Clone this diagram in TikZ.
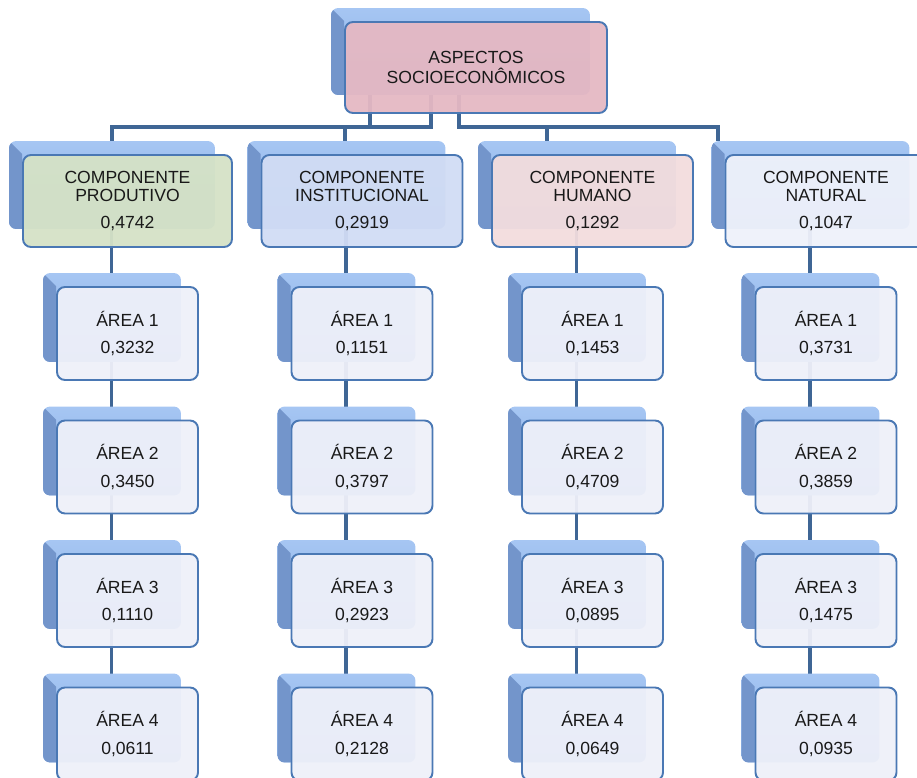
\documentclass[tikz,border=0pt]{standalone}
\usepackage{fontspec}
\setmainfont{Liberation Sans}
\usetikzlibrary{calc}

\pgfdeclarelayer{lines}
\pgfdeclarelayer{shade}
\pgfsetlayers{lines,shade,main}

\definecolor{linkblue}{HTML}{3F6695}
\definecolor{boxedge}{HTML}{4A78B4}
\definecolor{shadetop}{HTML}{A6C6F3}
\definecolor{shadebot}{HTML}{88AEE4}
\definecolor{shadeside}{HTML}{7395CB}
\definecolor{fillroot}{HTML}{E5B8C3}
\definecolor{fillprod}{HTML}{D5E2C6}
\definecolor{fillinst}{HTML}{D1DCF4}
\definecolor{fillhum}{HTML}{F2DCDD}
\definecolor{fillnat}{HTML}{EEF1FA}
\definecolor{fillarea}{HTML}{EEF0F9}

\begin{document}
\begin{tikzpicture}[
        x=0.02cm, y=-0.02cm,
        font=\fontsize{10}{10.2}\selectfont,
        card/.style={draw=boxedge, line width=1.1pt, rounded corners=4.5pt, fill opacity=0.95, text opacity=1, text=black!90, align=center, inner sep=0pt},
        root/.style={card, fill=fillroot, minimum width=5.24cm, minimum height=1.82cm},
        comp/.style={card, minimum width=4.02cm, minimum height=1.84cm},
        area/.style={card, fill=fillarea, minimum width=2.82cm, minimum height=1.86cm},
        link/.style={draw=linkblue, line width=2.2pt},
    ]
    \useasboundingbox (0,0) rectangle (917,778);

    %====================== TOPO ======================
    \node[root] (aspectos) at (476,67.5) {ASPECTOS\\[1.2pt]SOCIOECONÔMICOS};

    %====================== COMPONENTES ======================
    \node[comp, fill=fillprod, minimum width=4.18cm] (prod) at (127.5,201) {COMPONENTE\\PRODUTIVO\\[5.7pt]0,4742};
    \node[comp, fill=fillinst] (inst) at (362,201)   {COMPONENTE\\INSTITUCIONAL\\[5.7pt]0,2919};
    \node[comp, fill=fillhum]  (hum)  at (592.5,201) {COMPONENTE\\HUMANO\\[5.7pt]0,1292};
    \node[comp, fill=fillnat]  (nat)  at (826,201)   {COMPONENTE\\NATURAL\\[5.7pt]0,1047};

    %====================== ÁREAS ======================
    \node[area] (prod-a1) at (127.5,333.5) {ÁREA 1\\[5.7pt]0,3232};
    \node[area] (prod-a2) at (127.5,467)   {ÁREA 2\\[5.7pt]0,3450};
    \node[area] (prod-a3) at (127.5,600.5) {ÁREA 3\\[5.7pt]0,1110};
    \node[area] (prod-a4) at (127.5,734)   {ÁREA 4\\[5.7pt]0,0611};

    \node[area] (inst-a1) at (362,333.5) {ÁREA 1\\[5.7pt]0,1151};
    \node[area] (inst-a2) at (362,467)   {ÁREA 2\\[5.7pt]0,3797};
    \node[area] (inst-a3) at (362,600.5) {ÁREA 3\\[5.7pt]0,2923};
    \node[area] (inst-a4) at (362,734)   {ÁREA 4\\[5.7pt]0,2128};

    \node[area] (hum-a1) at (592.5,333.5) {ÁREA 1\\[5.7pt]0,1453};
    \node[area] (hum-a2) at (592.5,467)   {ÁREA 2\\[5.7pt]0,4709};
    \node[area] (hum-a3) at (592.5,600.5) {ÁREA 3\\[5.7pt]0,0895};
    \node[area] (hum-a4) at (592.5,734)   {ÁREA 4\\[5.7pt]0,0649};

    \node[area] (nat-a1) at (826,333.5) {ÁREA 1\\[5.7pt]0,3731};
    \node[area] (nat-a2) at (826,467)   {ÁREA 2\\[5.7pt]0,3859};
    \node[area] (nat-a3) at (826,600.5) {ÁREA 3\\[5.7pt]0,1475};
    \node[area] (nat-a4) at (826,734)   {ÁREA 4\\[5.7pt]0,0935};

    %====================== CAIXAS DE FUNDO (azul) ======================
    \begin{pgfonlayer}{shade}
    \foreach \n in {aspectos, prod, inst, hum, nat,
                    prod-a1, prod-a2, prod-a3, prod-a4, inst-a1, inst-a2, inst-a3, inst-a4,
                    hum-a1, hum-a2, hum-a3, hum-a4, nat-a1, nat-a2, nat-a3, nat-a4} {
        \coordinate (bk-nw) at ($(\n.north west)+(-13,-13)$);
        \coordinate (bk-se) at ($(\n.south east)+(-18,-19)$);
        \shade[top color=shadetop, bottom color=shadebot, rounded corners=4pt] (bk-nw) rectangle (bk-se);
        \begin{scope}
            \clip[rounded corners=4pt] (bk-nw) rectangle (bk-se);
            \fill[shadeside] (bk-nw) -- (\n.north west) -- (\n.north west |- bk-se) -- (bk-nw |- bk-se) -- cycle;
        \end{scope}
    }
    \end{pgfonlayer}

    %====================== LIGAÇÕES ======================
    \begin{pgfonlayer}{lines}
    \coordinate (bus) at (0,127);
    \coordinate (r1) at ($(aspectos.west)+(26,0)$);
    \coordinate (r2) at ($(aspectos.west)+(87,0)$);
    \coordinate (r3) at ($(aspectos.west)+(115,0)$);
    \coordinate (d-prod) at ($(prod.north)+(-15.5,-13)$);
    \coordinate (d-inst) at ($(inst.north)+(-17,-13)$);
    \coordinate (d-hum)  at ($(hum.north)+(-45.5,-13)$);
    \coordinate (d-nat)  at ($(nat.north)+(-108,-13)$);

    \draw[link] (d-prod) -- (d-prod |- bus) -| (r2);
    \draw[link] (r1) -- (r1 |- bus);
    \draw[link] (d-inst) -- (d-inst |- bus);
    \draw[link] (r3) |- (d-nat |- bus) -- (d-nat);
    \draw[link] (d-hum) -- (d-hum |- bus);

    \foreach \c in {prod, inst, hum, nat} {
        \draw[link] ($(\c.center)+(-16,0)$) -- ($(\c-a4.center)+(-16,0)$);
    }
    \end{pgfonlayer}

\end{tikzpicture}
\end{document}
